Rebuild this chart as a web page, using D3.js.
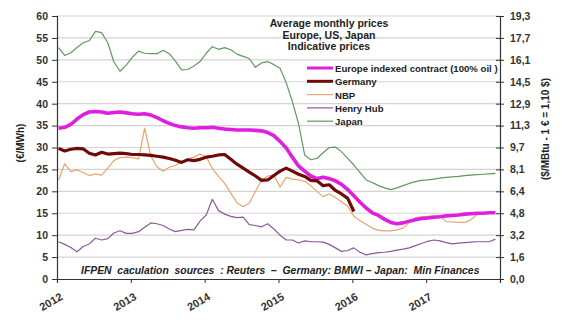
<!DOCTYPE html>
<html><head><meta charset="utf-8">
<script src="https://cdn.jsdelivr.net/npm/d3@7"></script>
<style>
body{margin:0;background:#fff;}
svg{font-family:"Liberation Sans",Arial,sans-serif;}
</style></head>
<body><svg id="c" width="564" height="328"></svg>
<script>
// Monthly data Jan 2012 .. Dec 2017 (€/MWh)
const startYear = 2012;
const europeIndexed = [34.4,34.6,35.3,36.5,37.5,38.1,38.2,38.1,37.8,38.0,38.1,37.9,
  37.7,37.6,37.7,37.4,36.8,36.1,35.5,35.0,34.7,34.5,34.4,34.5,
  34.5,34.6,34.4,34.2,34.1,34.0,34.0,34.0,33.9,33.8,33.4,32.7,
  31.4,29.9,27.8,25.8,24.6,23.5,22.9,23.2,22.9,22.4,21.6,20.4,
  19.0,17.5,16.2,15.1,14.5,13.6,12.9,12.6,12.8,13.2,13.5,13.8,
  13.9,14.1,14.2,14.4,14.5,14.6,14.8,14.9,15.0,15.0,15.1,15.1];
const germany = [29.8,29.2,29.6,29.8,29.7,28.7,28.3,28.9,28.5,28.6,28.7,28.6,
  28.4,28.4,28.3,28.2,28.0,27.8,27.5,27.1,26.6,27.2,27.0,27.3,
  27.8,28.0,28.3,28.4,27.3,26.2,25.3,24.4,23.5,22.5,22.6,23.6,
  24.6,25.3,24.6,23.9,23.4,22.5,22.4,21.3,21.5,20.2,19.4,18.4,
  15.4];
const nbp = [22.5,26.3,24.5,24.9,24.3,23.6,24.0,23.7,25.3,27.0,27.7,27.8,
  27.7,27.4,34.4,28.0,25.6,24.6,25.5,25.9,26.8,27.3,27.8,28.5,
  27.9,25.2,23.4,21.8,19.6,17.4,16.5,17.3,20.0,22.6,23.5,23.7,
  21.0,23.2,22.8,22.6,22.3,21.3,20.0,18.8,19.4,18.6,17.6,16.6,
  14.3,13.3,12.5,11.6,11.1,11.0,11.0,11.2,11.6,12.9,14.0,14.2,
  14.3,14.4,14.4,13.1,13.0,12.9,12.9,13.5,14.7,15.0,15.0,15.0];
const henryHub = [8.5,7.9,7.2,6.2,7.4,8.0,9.3,8.9,9.2,10.5,11.0,10.4,
  10.4,10.8,11.8,12.8,12.6,12.2,11.4,10.8,11.1,11.3,11.2,13.2,
  14.6,18.2,15.6,14.8,14.3,14.0,14.1,12.4,12.2,11.9,12.6,11.4,
  10.0,8.9,8.9,8.2,8.7,8.5,8.5,8.4,7.9,7.1,6.3,6.5,
  7.1,6.1,5.5,5.8,6.0,6.1,6.3,6.6,6.8,7.1,7.6,8.1,
  8.6,8.9,8.7,8.3,8.0,8.2,8.3,8.4,8.5,8.5,8.5,9.1];
const japan = [52.8,51.0,51.6,52.8,53.9,54.4,56.5,56.2,53.9,49.5,47.4,48.8,
  50.6,52.0,51.5,51.4,51.4,52.2,51.4,49.7,47.7,47.8,48.6,49.6,
  51.5,53.0,52.4,52.8,52.3,51.3,50.8,50.3,48.3,49.3,49.6,48.9,
  48.1,44.8,40.5,35.5,28.3,27.2,27.5,28.8,30.0,30.1,29.0,27.5,
  26.0,24.3,22.6,22.0,21.3,20.8,20.4,20.8,21.3,21.8,22.2,22.5,
  22.6,22.8,23.0,23.2,23.3,23.4,23.6,23.7,23.8,23.9,24.0,24.1];

const leftTicks = [0,5,10,15,20,25,30,35,40,45,50,55,60];
const rightTickLabels = ["0,0","1,6","3,2","4,8","6,4","8,1","9,7","11,3","12,9","14,5","16,1","17,7","19,3"];
const yearTicks = [2012,2013,2014,2015,2016,2017];

const seriesNames = ["Europe indexed contract (100% oil )","Germany","NBP","Henry Hub","Japan"];
const seriesData = [europeIndexed, germany, nbp, henryHub, japan];
const seriesColors = ["#e01ee0","#6e0a0a","#e8a46c","#8a5a96","#5f9a5f"];
const seriesWidths = [3.6,3.2,1.2,1.2,1.2];

const titleLines = ["Average monthly prices","Europe, US, Japan","Indicative prices"];
const footnote = "IFPEN  caculation  sources  : Reuters  –  Germany: BMWI – Japan:  Min Finances";

const svg = d3.select("#c");
const L = 57, R = 500, T = 16, B = 279;
const x = d3.scaleLinear().domain([2012, 2018]).range([L, R]);
const y = d3.scaleLinear().domain([0, 60]).range([B, T]);
const tx = i => startYear + (i + 0.25) / 12;

// gridlines
svg.append("g").selectAll("line").data(leftTicks.filter(d => d > 0)).join("line")
  .attr("x1", L).attr("x2", R).attr("y1", d => y(d)).attr("y2", d => y(d))
  .attr("stroke", "#d4d4d4").attr("stroke-width", 1.2);

// axes
const axisColor = "#333";
const gl = svg.append("g").attr("transform", `translate(${L},0)`)
  .call(d3.axisLeft(y).tickValues(leftTicks).tickSize(5).tickPadding(4));
const gr = svg.append("g").attr("transform", `translate(${R},0)`)
  .call(d3.axisRight(y).tickValues(leftTicks).tickSize(4).tickPadding(6)
    .tickFormat((d, i) => rightTickLabels[i]));
gr.selectAll(".tick line").attr("x1", -4);
const gb = svg.append("g").attr("transform", `translate(0,${B})`)
  .call(d3.axisBottom(x).tickValues(yearTicks).tickSize(4).tickFormat(d3.format("d")));
[gl, gr, gb].forEach(g => {
  g.select(".domain").attr("stroke", axisColor).attr("stroke-width", 1.2);
  g.selectAll(".tick line").attr("stroke", axisColor);
  g.selectAll("text").attr("fill", "#333").attr("font-size", 10.5).attr("font-weight", "bold")
    .attr("font-family", "Liberation Sans, Arial, sans-serif");
});
gb.selectAll("text").attr("text-anchor", "end").attr("dy", 0).attr("y", 0).attr("font-size", 11)
  .attr("transform", "translate(6,20) rotate(-30)");

// lines
const line = d3.line().x((d, i) => x(tx(i))).y(d => y(d));
const order = [4, 3, 2, 0, 1];
order.forEach(k => {
  svg.append("path").datum(seriesData[k]).attr("d", line)
    .attr("fill", "none").attr("stroke", seriesColors[k])
    .attr("stroke-width", seriesWidths[k]).attr("stroke-linejoin", "round");
});

// title
svg.append("g").selectAll("text").data(titleLines).join("text")
  .attr("x", 329).attr("y", (d, i) => 27 + i * 11.7).attr("text-anchor", "middle")
  .attr("font-size", 10.5).attr("font-weight", "bold").attr("fill", "#222").text(d => d);

// legend
const lg = svg.append("g");
seriesNames.forEach((n, i) => {
  const yy = 68 + i * 13.3;
  lg.append("line").attr("x1", 307).attr("x2", 333).attr("y1", yy).attr("y2", yy)
    .attr("stroke", seriesColors[i]).attr("stroke-width", Math.min(seriesWidths[i], 3));
  lg.append("text").attr("x", 335).attr("y", yy + 4).attr("font-size", 9.6)
    .attr("font-weight", "bold").attr("fill", "#222").text(n);
});

// footnote
svg.append("text").attr("x", 81).attr("y", 274).attr("font-size", 10.4)
  .attr("font-weight", "bold").attr("font-style", "italic").attr("fill", "#222")
  .style("white-space", "pre").text(footnote);

// axis titles
svg.append("text").attr("transform", "translate(24,143) rotate(-90)").attr("text-anchor", "middle")
  .attr("font-size", 10).attr("font-weight", "bold").attr("fill", "#222").text("(€/MWh)");
svg.append("text").attr("transform", "translate(549,129) rotate(-90)").attr("text-anchor", "middle")
  .attr("font-size", 10).attr("font-weight", "bold").attr("fill", "#222").text("($/MBtu - 1 € = 1,10 $)");
</script></body></html>
